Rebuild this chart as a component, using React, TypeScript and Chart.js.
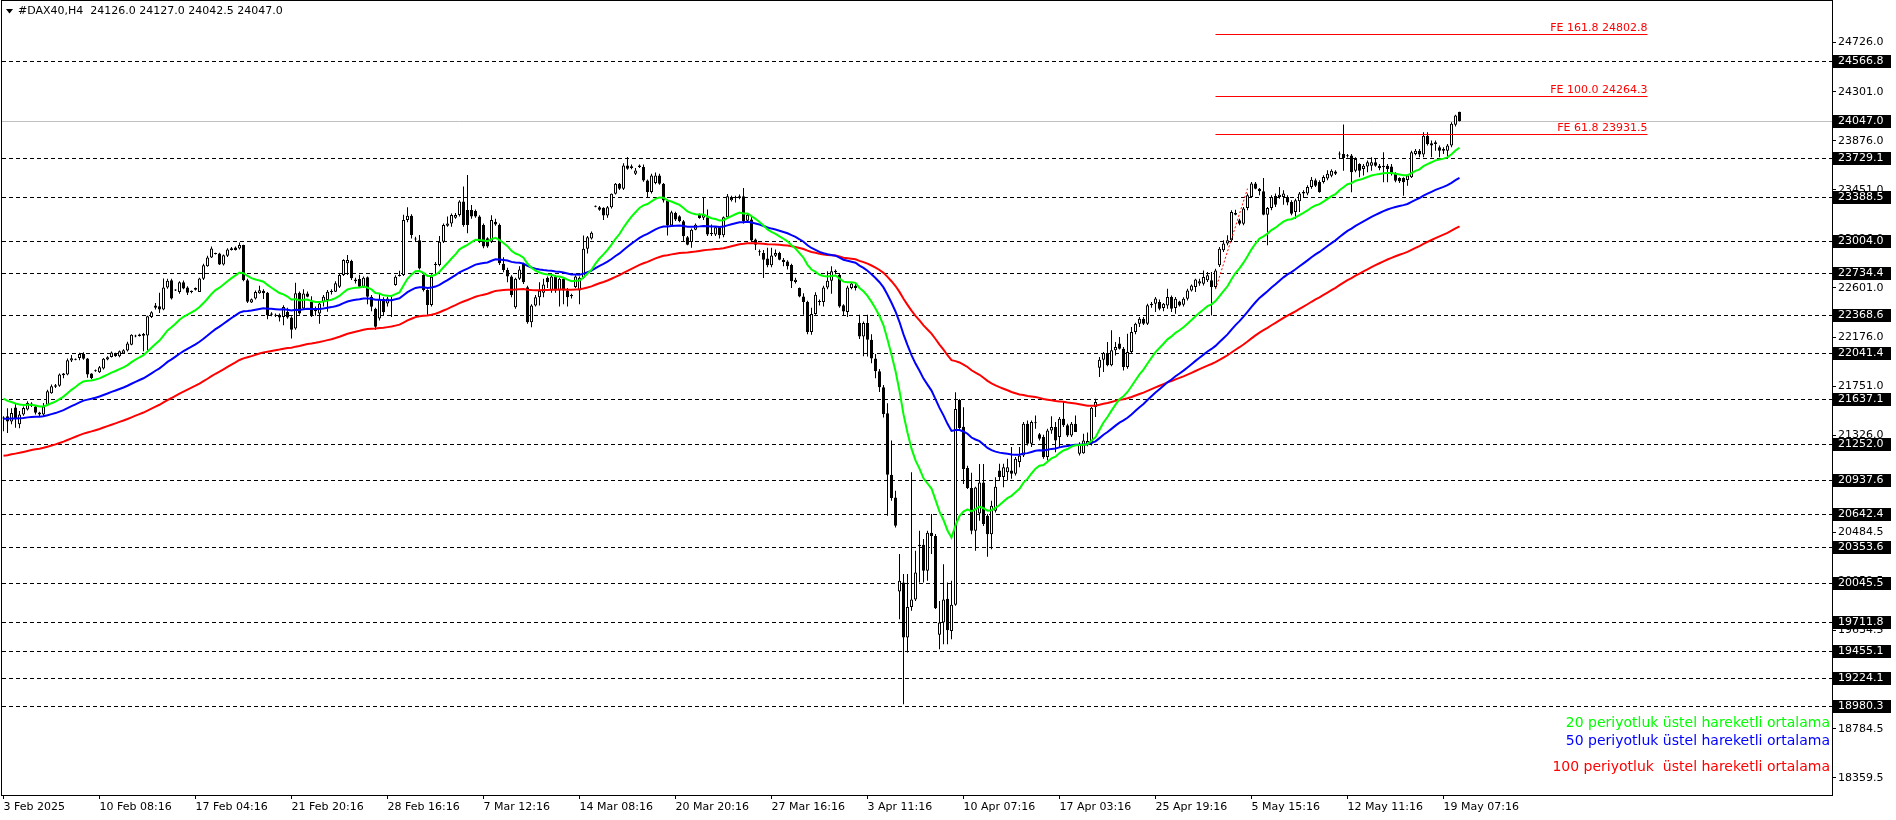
import React, { useEffect, useRef } from 'react';
import { Chart, registerables } from 'chart.js';

Chart.register(...registerables);

// ---------- DATA ----------
const symbolName = '#DAX40,H4';

// H4 candles: [open, high, low, close]
const candles: number[][] = [
  [21470,21490,21359,21480],[21490,21560,21345,21445],[21445,21560,21420,21518],[21565,21595,21390,21475],
  [21420,21535,21385,21505],[21505,21575,21495,21562],[21548,21620,21540,21605],[21600,21612,21570,21580],
  [21575,21585,21505,21520],[21522,21530,21490,21505],[21505,21605,21490,21575],[21590,21720,21580,21706],
  [21690,21765,21685,21750],[21758,21770,21735,21745],[21755,21860,21745,21851],[21845,21865,21820,21860],
  [21851,21990,21845,21975],[21972,22020,21960,21992],[21980,21990,21975,21982],[21995,22040,21975,22030],
  [22030,22045,21980,21987],[21990,21995,21823,21851],[21860,21862,21810,21822],[21880,21895,21875,21885],
  [21870,21925,21865,21915],[21903,21995,21895,21987],[21982,22010,21975,22000],[22004,22050,21998,22041],
  [22035,22040,22005,22010],[22010,22060,22000,22053],[22033,22070,22030,22062],[22059,22135,22050,22120],
  [22110,22200,22105,22195],[22180,22196,22175,22190],[22185,22205,22180,22197],[22203,22210,22053,22188],
  [22190,22360,22060,22356],[22350,22400,22340,22391],[22449,22470,22415,22430],[22443,22559,22385,22415],
  [22414,22683,22408,22605],[22605,22680,22595,22663],[22668,22680,22500,22510],[22580,22590,22575,22585],
  [22565,22660,22550,22651],[22651,22665,22590,22596],[22605,22615,22540,22559],[22576,22580,22555,22565],
  [22585,22605,22580,22600],[22567,22690,22565,22683],[22680,22810,22670,22798],[22790,22880,22785,22865],
  [22865,22960,22860,22943],[22900,22905,22890,22895],[22900,22905,22800,22805],[22805,22890,22795,22885],
  [22880,22945,22870,22935],[22930,22955,22925,22944],[22952,22960,22925,22930],[22942,22995,22935,22972],
  [22972,22975,22660,22668],[22668,22680,22470,22481],[22475,22510,22470,22504],[22510,22580,22500,22567],
  [22555,22620,22550,22582],[22576,22590,22505,22555],[22560,22565,22330,22365],[22380,22390,22355,22370],
  [22370,22380,22350,22360],[22370,22380,22310,22345],[22350,22452,22278,22437],[22395,22430,22335,22345],
  [22345,22355,22163,22240],[22250,22645,22240,22555],[22560,22570,22370,22380],[22424,22590,22410,22553],
  [22553,22570,22520,22524],[22480,22530,22350,22357],[22400,22440,22360,22412],[22380,22470,22290,22466],
  [22482,22540,22440,22525],[22496,22583,22395,22569],[22565,22590,22545,22575],[22568,22660,22565,22641],
  [22612,22725,22600,22713],[22713,22850,22705,22843],[22815,22887,22713,22843],[22835,22845,22670,22684],
  [22675,22690,22640,22660],[22678,22715,22600,22612],[22612,22700,22600,22690],[22693,22700,22460,22525],
  [22525,22540,22400,22438],[22420,22430,22240,22265],[22337,22550,22320,22505],[22505,22520,22360,22390],
  [22467,22525,22440,22510],[22485,22535,22350,22500],[22627,22710,22620,22698],[22705,22750,22700,22712],
  [22713,23235,22705,23190],[23190,23300,23170,23227],[23227,23240,23030,23060],[23030,23045,23000,23020],
  [23015,23060,22760,22770],[22713,22720,22570,22583],[22583,22590,22370,22453],[22453,22720,22440,22698],
  [22800,22825,22720,22810],[22800,23050,22790,23002],[23002,23160,22990,23146],[23140,23220,23130,23160],
  [23160,23245,23130,23233],[23210,23250,23200,23233],[23233,23360,23220,23349],[23349,23480,23130,23146],
  [23277,23580,23075,23146],[23277,23320,23200,23219],[23268,23280,23210,23219],[23219,23230,22990,23002],
  [23146,23160,22945,22959],[23031,23040,22950,22959],[23002,23230,22990,23190],[23175,23200,23140,23150],
  [23146,23160,22800,22814],[22810,22867,22737,22757],[22757,22775,22650,22700],[22700,22710,22520,22540],
  [22434,22690,22420,22680],[22680,22790,22670,22760],[22810,22820,22636,22650],[22607,22620,22290,22304],
  [22304,22460,22260,22448],[22448,22540,22440,22520],[22520,22650,22448,22576],[22560,22680,22520,22630],
  [22690,22700,22600,22650],[22580,22720,22560,22700],[22700,22710,22560,22580],[22580,22690,22440,22680],
  [22680,22690,22460,22580],[22580,22600,22440,22520],[22540,22550,22510,22530],[22610,22710,22600,22700],
  [22580,22700,22460,22690],[22690,23055,22680,22940],[22940,23050,22900,23040],[23030,23090,23020,23080],
  [23305,23315,23300,23310],[23300,23310,23270,23278],[23295,23300,23190,23228],[23228,23310,23210,23300],
  [23300,23420,23290,23416],[23416,23510,23410,23503],[23503,23510,23450,23460],[23460,23680,23450,23662],
  [23662,23734,23625,23633],[23640,23670,23630,23655],[23590,23640,23580,23618],[23662,23670,23640,23648],
  [23648,23670,23520,23532],[23532,23540,23387,23431],[23431,23590,23420,23575],[23510,23600,23500,23575],
  [23575,23590,23495,23503],[23503,23510,23340,23358],[23358,23370,23055,23142],[23142,23270,23130,23257],
  [23250,23260,23180,23193],[23222,23230,23170,23178],[23178,23190,23000,23048],[23040,23050,22970,22976],
  [22999,23115,22950,23106],[23106,23160,23100,23149],[23236,23245,23200,23207],[23210,23380,23190,23236],
  [23213,23280,23050,23063],[23070,23150,23050,23068],[23063,23130,23050,23126],[23126,23135,23030,23057],
  [23057,23220,23040,23213],[23213,23415,23200,23395],[23360,23400,23350,23380],[23380,23400,23340,23388],
  [23380,23410,23370,23395],[23395,23467,23160,23178],[23184,23250,23170,23235],[23193,23220,23000,23011],
  [23020,23030,22930,22976],[22915,22935,22880,22910],[22904,22930,22687,22846],[22855,22950,22780,22797],
  [22797,22950,22780,22883],[22880,22935,22870,22904],[22904,22915,22840,22846],[22846,22860,22790,22826],
  [22830,22840,22760,22788],[22800,22810,22600,22658],[22652,22690,22640,22672],[22600,22605,22520,22528],
  [22528,22555,22370,22479],[22479,22490,22200,22219],[22219,22430,22195,22375],[22375,22563,22370,22543],
  [22485,22500,22450,22480],[22479,22620,22440,22606],[22606,22745,22590,22664],[22664,22790,22550,22745],
  [22750,22760,22720,22738],[22716,22730,22430,22441],[22452,22460,22360,22398],[22392,22620,22350,22606],
  [22600,22650,22590,22640],[22620,22650,22580,22600],[22300,22369,22160,22181],[22181,22310,22010,22297],
  [22297,22369,22008,22152],[22152,22200,21950,21990],[21990,22030,21820,21880],[21880,21900,21700,21741],
  [21741,21760,21480,21510],[21516,21602,20628,20984],[20984,21279,20758,20781],[20787,20845,20527,20541],
  [19972,20296,19733,20065],[20050,20123,18995,19574],[19574,20123,19443,19839],[19839,21004,19805,19903],
  [19903,20325,19890,20137],[20377,20498,20050,20365],[20377,20426,20050,20152],[20152,20498,20065,20481],
  [20481,20643,20296,20452],[20452,20470,19820,19828],[19597,19891,19472,19704],[19704,20209,19516,19903],
  [19909,20050,19516,19637],[19631,20065,19559,19857],[19857,21698,19848,21553],[21631,21640,21380,21388],
  [21400,21568,20903,21033],[21042,21062,20860,20868],[20868,21000,20469,20498],[20498,20880,20325,20874],
  [20648,21076,20585,20917],[20917,21076,20540,20556],[20628,20643,20273,20469],[20469,20758,20339,20715],
  [20672,20961,20657,20880],[21020,21078,20934,20963],[20963,21078,20876,21049],[21006,21122,20934,21049],
  [21020,21223,20948,20991],[20991,21136,20977,21122],[21093,21223,21049,21150],[21150,21440,21136,21425],
  [21425,21454,21237,21252],[21252,21454,21223,21440],[21430,21497,21382,21434],[21333,21345,21280,21295],
  [21310,21330,21122,21136],[21136,21382,21107,21367],[21367,21489,21338,21396],[21396,21440,21179,21280],
  [21310,21483,21223,21468],[21468,21613,21396,21411],[21411,21425,21310,21324],[21324,21440,21310,21425],
  [21425,21497,21353,21353],[21165,21265,21150,21252],[21170,21338,21165,21280],[21252,21350,21230,21275],
  [21252,21570,21237,21564],[21570,21642,21483,21613],[21910,22003,21830,21980],[21980,22046,21873,22038],
  [22038,22133,21922,21931],[21931,22234,21922,22061],[22061,22133,22017,22090],[22119,22176,22067,22075],
  [22075,22090,21887,21916],[21916,22205,21902,22046],[22046,22263,22032,22220],[22220,22300,22200,22292],
  [22292,22350,22263,22335],[22335,22350,22280,22292],[22292,22465,22280,22451],[22451,22480,22430,22465],
  [22465,22523,22393,22509],[22479,22500,22407,22421],[22427,22470,22400,22464],[22450,22594,22421,22522],
  [22522,22536,22392,22421],[22427,22522,22378,22508],[22484,22490,22440,22450],[22455,22520,22440,22508],
  [22508,22594,22493,22580],[22580,22630,22570,22623],[22609,22680,22565,22675],[22640,22680,22620,22660],
  [22638,22753,22623,22695],[22667,22739,22652,22710],[22667,22739,22363,22609],[22609,22768,22594,22753],
  [22797,22956,22782,22941],[22927,23014,22912,22985],[22985,23057,22970,23014],[23014,23273,23000,23259],
  [23250,23279,23230,23236],[23187,23201,23143,23158],[23158,23302,23143,23288],[23294,23418,23273,23403],
  [23389,23519,23380,23505],[23505,23519,23455,23461],[23461,23467,23404,23438],[23438,23554,23230,23236],
  [23236,23302,22970,23294],[23294,23403,23273,23389],[23397,23418,23302,23322],[23389,23476,23374,23409],
  [23389,23447,23322,23418],[23389,23403,23317,23340],[23346,23360,23230,23244],[23259,23374,23201,23360],
  [23351,23432,23259,23418],[23418,23447,23380,23432],[23418,23490,23404,23476],[23476,23562,23461,23539],
  [23534,23548,23476,23485],[23519,23533,23426,23432],[23519,23577,23505,23562],[23548,23620,23533,23591],
  [23573,23630,23560,23617],[23610,23620,23580,23590],[23756,23782,23727,23762],[23762,24016,23617,23727],
  [23747,23760,23730,23741],[23747,23762,23429,23603],[23617,23733,23603,23718],[23675,23680,23559,23617],
  [23631,23675,23574,23660],[23652,23704,23603,23689],[23660,23733,23617,23689],[23689,23720,23650,23660],
  [23660,23675,23620,23640],[23660,23776,23516,23646],[23660,23675,23516,23631],[23652,23675,23574,23588],
  [23588,23603,23516,23530],[23553,23560,23510,23525],[23553,23559,23400,23516],[23536,23582,23487,23574],
  [23559,23790,23553,23776],[23762,23805,23750,23790],[23790,23805,23733,23756],[23756,23949,23733,23920],
  [23920,23949,23834,23848],[23854,23877,23733,23834],[23848,23877,23790,23862],[23819,23834,23733,23790],
  [23805,23819,23762,23790],[23790,23848,23718,23834],[23834,24036,23819,24022],[24014,24100,24000,24094],
  [24126.0,24127.0,24042.5,24047.0],
];

// x-axis time labels, one every 24 bars
const timeLabels = [
  '3 Feb 2025', '10 Feb 08:16', '17 Feb 04:16', '21 Feb 20:16', '28 Feb 16:16', '7 Mar 12:16',
  '14 Mar 08:16', '20 Mar 20:16', '27 Mar 16:16', '3 Apr 11:16', '10 Apr 07:16', '17 Apr 03:16',
  '25 Apr 19:16', '5 May 15:16', '12 May 11:16', '19 May 07:16',
];
const barsPerTimeLabel = 24;

// price axis tick values
const priceTicks = [
  24726.0, 24301.0, 23876.0, 23451.0, 23026.0, 22601.0, 22176.0, 21751.0, 21326.0,
  20909.5, 20484.5, 20059.5, 19634.5, 19209.5, 18784.5, 18359.5,
];

// horizontal dashed price levels
const levelPrices = [
  24566.8, 23729.1, 23388.5, 23004.0, 22734.4, 22368.6, 22041.4, 21637.1, 21252.0,
  20937.6, 20642.4, 20353.6, 20045.5, 19711.8, 19455.1, 19224.1, 18980.3,
];
const bidPrice = 24047.0;

// Fibonacci expansion
const feRatios = ['161.8', '100.0', '61.8'];
const fePrices = [24802.8, 24264.3, 23931.5];
const feBarRange = [303, 411];
const feBaseBars = [303, 311];
const feBasePrices = [22590, 23461];

// EMA indicators
const emaPeriods = [20, 50, 100];
const emaStartValues = [21642, 21469, 21147];
const emaLegend = [
  '20 periyotluk üstel hareketli ortalama',
  '50 periyotluk üstel hareketli ortalama',
  '100 periyotluk  üstel hareketli ortalama',
];

// ---------- STYLE ----------
const FONT = 'DejaVu Sans';
const emaColors = ['#00FF00', '#0000FF', '#FF0000'];
const legendY = [723, 741, 767];
const Y_MIN = 18210;
const Y_MAX = 25086;

function ema(values: number[], period: number, start: number): number[] {
  const k = 2 / (period + 1);
  const out: number[] = [];
  let prev = start;
  values.forEach((v, i) => {
    prev = i === 0 ? start : prev + k * (v - prev);
    out.push(prev);
  });
  return out;
}

const mt4Plugin = {
  id: 'mt4',
  beforeDraw(chart: any) {
    const { ctx, width, height } = chart;
    ctx.save();
    ctx.fillStyle = '#FFFFFF';
    ctx.fillRect(0, 0, width, height);
    ctx.restore();
  },
  beforeDatasetsDraw(chart: any) {
    const { ctx, chartArea: a, scales } = chart;
    const y = scales.y;
    ctx.save();
    ctx.lineWidth = 1;
    ctx.strokeStyle = '#000000';
    ctx.setLineDash([4, 3]);
    for (const v of levelPrices) {
      const py = Math.round(y.getPixelForValue(v)) + 0.5;
      ctx.beginPath();
      ctx.moveTo(a.left, py);
      ctx.lineTo(a.right, py);
      ctx.stroke();
    }
    ctx.setLineDash([]);
    ctx.strokeStyle = '#C0C0C0';
    const by = Math.round(y.getPixelForValue(bidPrice)) + 0.5;
    ctx.beginPath();
    ctx.moveTo(a.left, by);
    ctx.lineTo(a.right, by);
    ctx.stroke();
    ctx.restore();
  },
  afterDatasetsDraw(chart: any) {
    const { ctx, chartArea: a, scales } = chart;
    const x = scales.x;
    const y = scales.y;
    ctx.save();

    // Fibonacci expansion lines
    const x0 = x.getPixelForValue(feBarRange[0]);
    const x1 = x.getPixelForValue(feBarRange[1]);
    ctx.strokeStyle = '#FF0000';
    ctx.fillStyle = '#FF0000';
    ctx.lineWidth = 1;
    ctx.font = `11px "${FONT}"`;
    ctx.textAlign = 'right';
    ctx.textBaseline = 'alphabetic';
    fePrices.forEach((p, i) => {
      const py = Math.round(y.getPixelForValue(p)) + 0.5;
      ctx.beginPath();
      ctx.moveTo(x0, py);
      ctx.lineTo(x1, py);
      ctx.stroke();
      ctx.fillText(`FE ${feRatios[i]} ${p.toFixed(1)}`, x1, py - 4);
    });
    ctx.setLineDash([2, 2]);
    ctx.beginPath();
    ctx.moveTo(x.getPixelForValue(feBaseBars[0]), y.getPixelForValue(feBasePrices[0]));
    ctx.lineTo(x.getPixelForValue(feBaseBars[1]), y.getPixelForValue(feBasePrices[1]));
    ctx.stroke();
    ctx.setLineDash([]);

    // frame
    ctx.strokeStyle = '#000000';
    ctx.strokeRect(a.left - 0.5, a.top - 0.5, a.right - a.left + 1, a.bottom - a.top + 1);

    // price boxes on axis
    ctx.textAlign = 'left';
    ctx.textBaseline = 'middle';
    ctx.font = `11px "${FONT}"`;
    const boxed = [...levelPrices, bidPrice];
    for (const v of boxed) {
      const py = Math.round(y.getPixelForValue(v));
      ctx.fillStyle = '#000000';
      ctx.fillRect(a.right + 1, py - 6, 58, 13);
      ctx.fillStyle = '#FFFFFF';
      ctx.fillText(v.toFixed(1), a.right + 6, py + 0.5);
    }

    // header
    ctx.fillStyle = '#000000';
    ctx.beginPath();
    ctx.moveTo(6, 9);
    ctx.lineTo(13, 9);
    ctx.lineTo(9.5, 13.5);
    ctx.closePath();
    ctx.fill();
    const last = candles[candles.length - 1];
    ctx.font = `11px "${FONT}"`;
    ctx.textBaseline = 'middle';
    ctx.fillText(`${symbolName}  ${last.map((v) => v.toFixed(1)).join(' ')}`, 18, 11.5);

    // legend
    ctx.font = `14px "${FONT}"`;
    ctx.textAlign = 'right';
    emaLegend.forEach((t, i) => {
      ctx.fillStyle = emaColors[i];
      ctx.fillText(t, a.right - 2, legendY[i]);
    });
    ctx.restore();
  },
};

export default function App() {
  const canvasRef = useRef<HTMLCanvasElement | null>(null);

  useEffect(() => {
    const canvas = canvasRef.current;
    if (!canvas) return;
    const closes = candles.map((c) => c[3]);
    const bodyData = candles.map((c, i) => ({ x: i, y: [Math.min(c[0], c[3]), Math.max(c[0], c[3])] }));
    const wickData = candles.map((c, i) => ({ x: i, y: [c[2], c[1]] }));
    const bodyColors = candles.map((c) => (c[3] >= c[0] ? '#FFFFFF' : '#000000'));
    const emaSets = emaPeriods.map((p, k) => ({
      type: 'line' as const,
      data: ema(closes, p, emaStartValues[k]).map((v, i) => ({ x: i, y: v })),
      borderColor: emaColors[k],
      borderWidth: 2,
      pointRadius: 0,
      tension: 0,
      order: 0,
    }));
    const font = { family: FONT, size: 11 };

    const chart = new Chart(canvas, {
      type: 'bar',
      data: {
        datasets: [
          ...emaSets,
          {
            type: 'bar',
            data: bodyData as any,
            backgroundColor: bodyColors,
            borderColor: '#000000',
            borderWidth: 1,
            borderSkipped: false,
            barThickness: 3,
            grouped: false,
            minBarLength: 1,
            inflateAmount: 0,
            order: 1,
          },
          {
            type: 'bar',
            data: wickData as any,
            backgroundColor: '#000000',
            borderWidth: 0,
            barThickness: 1,
            grouped: false,
            inflateAmount: 0,
            order: 2,
          },
        ] as any,
      },
      options: {
        animation: false,
        responsive: false,
        devicePixelRatio: 1,
        events: [],
        layout: { padding: { top: 1, left: 2, right: 0, bottom: 0 } },
        plugins: { legend: { display: false }, tooltip: { enabled: false } },
        scales: {
          x: {
            type: 'linear',
            min: -0.375,
            max: 457.125,
            offset: false,
            afterBuildTicks: (s: any) => {
              s.ticks = timeLabels.map((_, k) => ({ value: k * barsPerTimeLabel }));
            },
            afterFit: (s: any) => {
              s.height = 25;
              s.paddingLeft = 0;
              s.paddingRight = 0;
              s.paddingTop = 0;
              s.paddingBottom = 0;
            },
            ticks: {
              autoSkip: false,
              maxRotation: 0,
              minRotation: 0,
              align: 'start',
              padding: 2,
              color: '#000000',
              font,
              callback: (v: any) => timeLabels[Math.round(Number(v) / barsPerTimeLabel)] ?? '',
            },
            grid: { drawOnChartArea: false, drawTicks: true, tickLength: 4, color: '#000000', offset: false },
            border: { display: false },
          },
          y: {
            type: 'linear',
            position: 'right',
            min: Y_MIN,
            max: Y_MAX,
            afterBuildTicks: (s: any) => {
              s.ticks = priceTicks.map((v) => ({ value: v }));
            },
            afterFit: (s: any) => {
              s.width = 64;
              s.paddingLeft = 0;
              s.paddingRight = 0;
              s.paddingTop = 0;
              s.paddingBottom = 0;
            },
            ticks: {
              autoSkip: false,
              padding: 2,
              color: '#000000',
              font,
              callback: (v: any) => Number(v).toFixed(1),
            },
            grid: { drawOnChartArea: false, drawTicks: true, tickLength: 4, color: '#000000' },
            border: { display: false },
          },
        },
      } as any,
      plugins: [mt4Plugin],
    });
    return () => chart.destroy();
  }, []);

  return (
    <div style={{ position: 'fixed', left: 0, top: 0, width: 1896, height: 820, background: '#FFFFFF' }}>
      <canvas ref={canvasRef} width={1896} height={820} style={{ display: 'block' }} />
    </div>
  );
}
